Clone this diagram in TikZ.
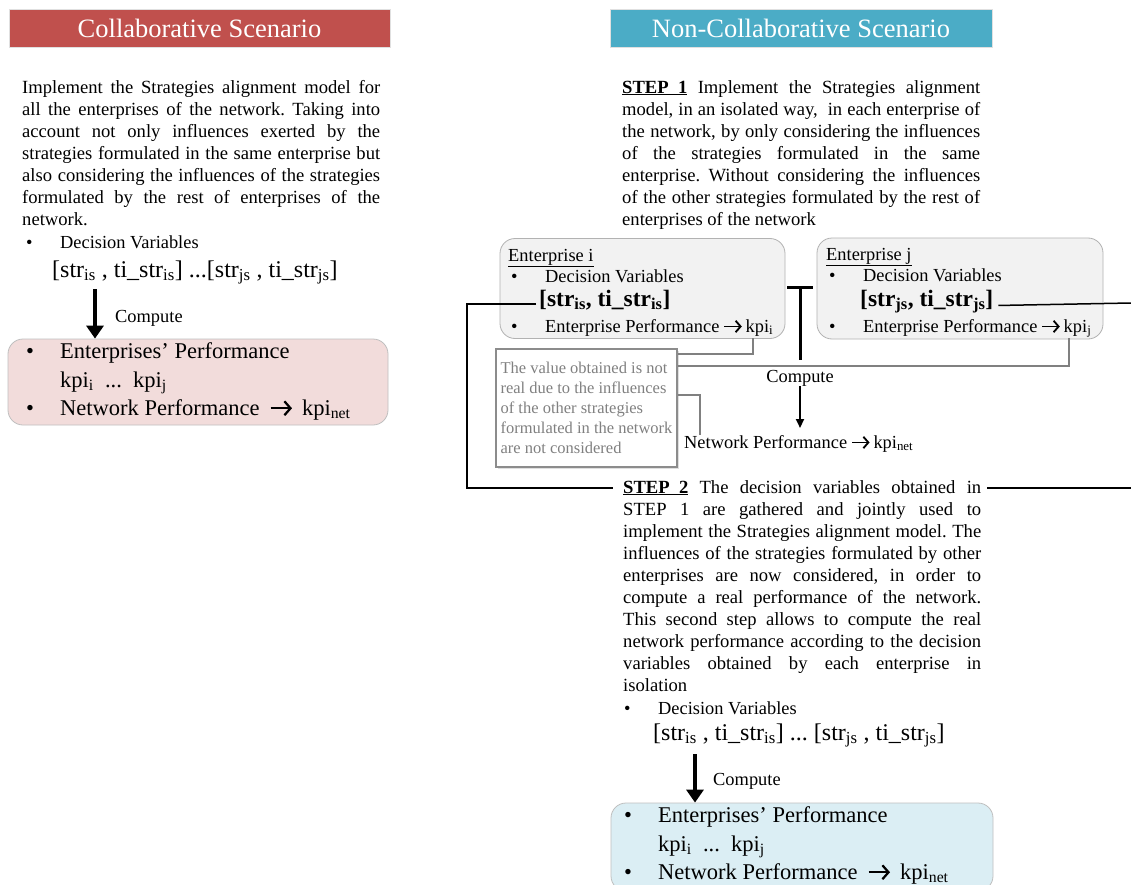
\documentclass[tikz,border=0pt]{standalone}
\usepackage{fontspec}
\setmainfont{Liberation Serif}
\usetikzlibrary{arrows.meta,shadows}
\definecolor{collabred}{HTML}{C0504D}
\definecolor{ncteal}{HTML}{4BACC6}
\definecolor{pinkfill}{HTML}{F2DCDB}
\definecolor{bluefill}{HTML}{DBEEF4}
\definecolor{entfill}{HTML}{F2F2F2}
\def\lo#1{\textsubscript{#1}}
\def\arr{\tikz[baseline=0pt]\draw[line width=0.1em, -{Straight Barb[length=0.27em,width=0.62em]}]
    (0,0.3em) -- (0.95em,0.3em);}
\def\bul{\makebox[34pt][l]{\textbullet}}
\frenchspacing

\begin{document}
\begin{tikzpicture}[x=1pt,y=-1pt,
    header/.style={minimum height=38pt, inner sep=0pt, text=white, draw=black!12,
        font=\fontsize{26.5}{30}\selectfont},
    body/.style={anchor=north west, inner sep=0pt, text width=358pt, align=justify,
        font=\fontsize{18.6}{22}\selectfont},
    item/.style={anchor=base west, inner sep=0pt, font=\fontsize{18.4}{22}\selectfont},
    bigitem/.style={anchor=base west, inner sep=0pt, font=\fontsize{22.5}{26}\selectfont},
    varitem/.style={anchor=base west, inner sep=0pt, font=\fontsize{24}{26}\selectfont},
    boldvar/.style={anchor=base west, inner sep=0pt, font=\fontsize{23.5}{26}\selectfont\bfseries},
    resultbox/.style={draw=black!25, line width=0.8pt, rounded corners=15pt},
    entbox/.style={draw=black!30, line width=0.8pt, fill=entfill, rounded corners=15pt},
    notebox/.style={draw=black!45, line width=1.5pt, fill=white, text=black!50, align=left,
        minimum width=181pt, minimum height=118pt, inner sep=0pt,
        font=\fontsize{16.5}{20}\selectfont,
        drop shadow={opacity=0.25, shadow xshift=1.5pt, shadow yshift=-1.5pt}},
    fat/.style={line width=3.5pt, -{Triangle[length=13pt,width=17pt]}},
    slim/.style={line width=2pt, -{Triangle[length=9pt,width=8pt]}},
    link/.style={line width=1.5pt},
    greylink/.style={draw=black!50, line width=1.5pt}]
    \useasboundingbox[fill=white] (0,0) rectangle (1131,885);

    % collaborative side
    \node[header, fill=collabred, minimum width=381pt] (chead) at (199.5,28) {Collaborative Scenario};
    \node[body] (ctext) at (22,80) {Implement the Strategies alignment model for\linebreak
        all the enterprises of the network. Taking into\linebreak
        account not only influences exerted by the\linebreak
        strategies formulated in the same enterprise but\linebreak
        also considering the influences of the strategies\linebreak
        formulated by the rest of enterprises of the\linebreak
        network.};
    \node[item] (cdv) at (26,248) {\bul Decision Variables};
    \node[varitem] (cvars) at (52,277) {[str\lo{is} , ti\_str\lo{is}] ...[str\lo{js} , ti\_str\lo{js}]};
    \node[resultbox, fill=pinkfill, minimum width=380pt, minimum height=86pt] (cres) at (198,382) {};
    \coordinate (carr) at (95,289);
    \draw[fat] (carr) -- (carr |- cres.north);
    \node[item] (ccomp) at (115,322) {Compute};
    \node[bigitem] (cperf) at (26,358) {\bul Enterprises’ Performance};
    \node[bigitem] (ckpi) at (60,387) {kpi\lo{i}\ \ ...\ \ kpi\lo{j}};
    \node[bigitem] (cnet) at (26,415) {\bul Network Performance\hspace{10pt}\arr\hspace{9pt}kpi\lo{net}};

    % non-collaborative side
    \node[header, fill=ncteal, minimum width=382pt] (nhead) at (801,28) {Non-Collaborative Scenario};
    \node[body] (step1) at (622,80) {\underline{\textbf{STEP\ \ 1}} Implement the Strategies alignment\linebreak
        model, in an isolated way,\ \ in each enterprise of\linebreak
        the network, by only considering the influences\linebreak
        of the strategies formulated in the same\linebreak
        enterprise. Without considering the influences\linebreak
        of the other strategies formulated by the rest of\linebreak
        enterprises of the network};

    \node[entbox, minimum width=285pt, minimum height=100pt] (enti) at (642.5,288.5) {};
    \node[item] (entiname) at (508,261) {\underline{Enterprise i}};
    \node[item] (entidv) at (511,282) {\bul Decision Variables};
    \node[boldvar] (stri) at (539,306) {[str\lo{is}, ti\_str\lo{is}]};
    \node[item] (entikpi) at (511,332) {\bul Enterprise Performance\hspace{4pt}\arr\hspace{3pt}kpi\lo{i}};

    \node[entbox, minimum width=286pt, minimum height=101pt] (entj) at (960,288.5) {};
    \node[item] (entjname) at (826,260) {\underline{Enterprise j}};
    \node[item] (entjdv) at (829,281) {\bul Decision Variables};
    \node[boldvar] (strj) at (860,306) {[str\lo{js}, ti\_str\lo{js}]};
    \node[item] (entjkpi) at (829,332) {\bul Enterprise Performance\hspace{4pt}\arr\hspace{3pt}kpi\lo{j}};

    \coordinate (teetop) at (800,286);
    \coordinate (teebot) at (800,360);
    \draw[line width=3pt, {Bar[width=26pt]}-] (teetop) -- (teebot);

    \node[notebox] (note) at (586.5,408) {The value obtained is not\\
        real due to the influences\\ of the other strategies\\
        formulated in the network\\ are not considered};

    \node[item, anchor=base] (ncomp) at (800,382) {Compute};
    \coordinate (narrowend) at (800,428);
    \draw[slim] (ncomp.south) -- (narrowend);
    \node[item] (nnet) at (684,448) {Network Performance\hspace{4pt}\arr\hspace{3pt}kpi\lo{net}};

    \coordinate (tapi) at (753,338);
    \coordinate (tapj) at (1069,338);
    \draw[greylink] ([yshift=54pt]note.east) -| (tapi);
    \draw[greylink] ([yshift=42pt]note.east) -| (tapj);
    \draw[greylink] ([yshift=13pt]note.east) -| ([xshift=16pt]nnet.north west);

    \node[body] (step2) at (623,480) {\underline{\textbf{STEP\ \ 2}} The decision variables obtained in\linebreak
        STEP 1 are gathered and jointly used to\linebreak
        implement the Strategies alignment model. The\linebreak
        influences of the strategies formulated by other\linebreak
        enterprises are now considered, in order to\linebreak
        compute a real performance of the network.\linebreak
        This second step allows to compute the real\linebreak
        network performance according to the decision\linebreak
        variables obtained by each enterprise in\linebreak
        isolation};

    % both sets of decision variables feed step 2
    \coordinate (lrail) at (467,488);
    \coordinate (s2l) at (613,488);
    \coordinate (s2r) at (987,488);
    \coordinate (rrail) at (1131,488);
    \coordinate (rtop) at (1131,303);
    \draw[link] ([xshift=-3pt,yshift=-4pt]stri.west) -| (lrail) -- (s2l);
    \draw[link] ([xshift=5pt,yshift=-4pt]strj.east) -- (rtop);
    \draw[link] (s2r) -- (rrail);

    \node[item] (ndv) at (624,714) {\bul Decision Variables};
    \node[varitem] (nvars) at (653,740) {[str\lo{is} , ti\_str\lo{is}] ... [str\lo{js} , ti\_str\lo{js}]};
    \node[resultbox, fill=bluefill, minimum width=382pt, minimum height=88pt] (nres) at (802,847) {};
    \coordinate (narr) at (695,754);
    \draw[fat] (narr) -- (narr |- nres.north);
    \node[item] (ncomp2) at (713,785) {Compute};
    \node[bigitem] (nperf) at (624,822) {\bul Enterprises’ Performance};
    \node[bigitem] (nkpi) at (658,851) {kpi\lo{i}\ \ ...\ \ kpi\lo{j}};
    \node[bigitem] (nnetp) at (624,879) {\bul Network Performance\hspace{10pt}\arr\hspace{9pt}kpi\lo{net}};
\end{tikzpicture}
\end{document}
